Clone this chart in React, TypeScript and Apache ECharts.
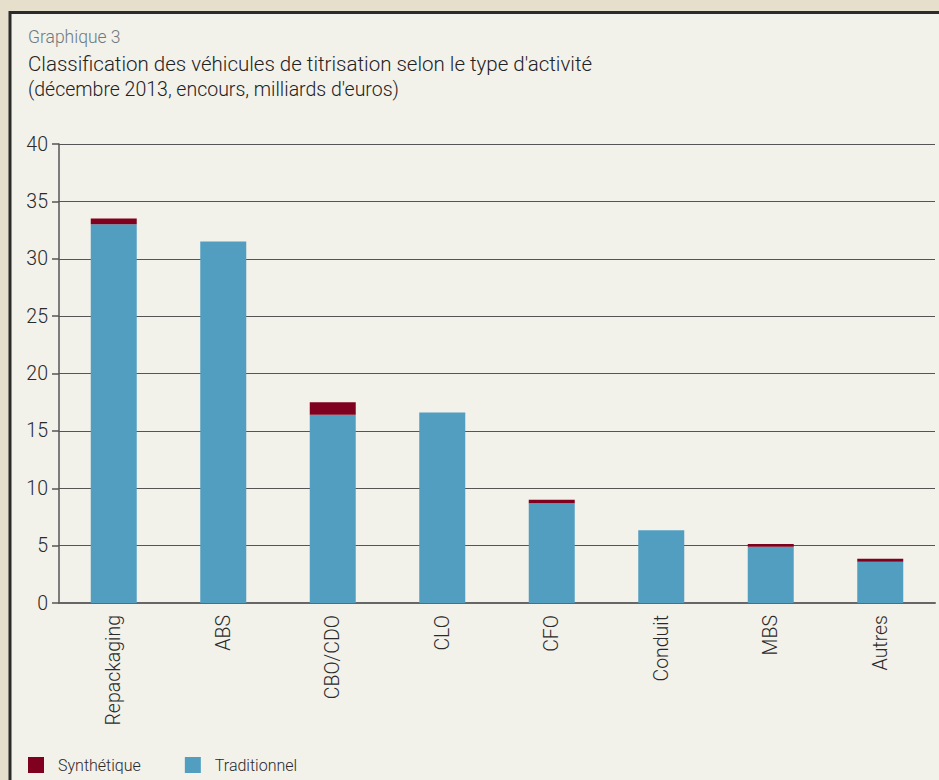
import React, { useEffect, useRef } from "react";
import * as echarts from "echarts";

const categories = ["Repackaging", "ABS", "CBO/CDO", "CLO", "CFO", "Conduit", "MBS", "Autres"];
const traditionnel = [33.0, 31.5, 16.4, 16.6, 8.7, 6.35, 4.9, 3.6];
const synthetique = [0.5, 0, 1.1, 0, 0.3, 0, 0.25, 0.25];
const yTicks = { min: 0, max: 40, interval: 5 };

const FONT = "Roboto";

export default function App() {
  const ref = useRef<HTMLDivElement>(null);
  useEffect(() => {
    document.body.style.margin = "0";
    const chart = echarts.init(ref.current!, undefined, { renderer: "svg" });
    chart.setOption({
      animation: false,
      backgroundColor: "#e5dfcc",
      textStyle: { fontFamily: FONT },
      graphic: [
        {
          type: "rect",
          z: -10,
          silent: true,
          shape: { x: 10, y: 12.5, width: 1000, height: 900 },
          style: { fill: "#f2f1ea", stroke: "#2b2b2b", lineWidth: 3 },
        },
        {
          type: "text",
          left: 28,
          top: 28,
          style: { text: "Graphique 3", fill: "#6d7a80", font: `300 17.5px ${FONT}` },
        },
        {
          type: "text",
          left: 28,
          top: 53,
          style: {
            text: "Classification des véhicules de titrisation selon le type d'activité",
            fill: "#222222",
            font: `300 20.5px ${FONT}`,
          },
        },
        {
          type: "text",
          left: 28,
          top: 79,
          style: {
            text: "(décembre 2013, encours, milliards d'euros)",
            fill: "#222222",
            font: `300 19.5px ${FONT}`,
          },
        },
      ],
      legend: {
        left: 23,
        top: 752,
        itemWidth: 16,
        itemHeight: 16,
        itemGap: 44,
        icon: "rect",
        data: ["Synthétique", "Traditionnel"],
        textStyle: { fontFamily: FONT, fontSize: 16, fontWeight: 300, color: "#2a2a2a", padding: [0, 0, 0, 9] },
      },
      grid: { left: 59, right: 4, top: 144, bottom: 177 },
      xAxis: {
        type: "category",
        data: categories,
        axisLine: { lineStyle: { color: "#666", width: 2 } },
        axisTick: { length: 6, lineStyle: { color: "#555", width: 1.5 } },
        axisLabel: { rotate: 90, margin: 12, fontSize: 19.5, color: "#2a2a2a", fontFamily: FONT, fontWeight: 300 },
      },
      yAxis: {
        type: "value",
        min: yTicks.min,
        max: yTicks.max,
        interval: yTicks.interval,
        axisLine: { show: true, lineStyle: { color: "#555", width: 1.5 } },
        axisTick: { show: true, length: 7, lineStyle: { color: "#555", width: 1.5 } },
        axisLabel: { margin: 11, fontSize: 19.5, color: "#2a2a2a", fontFamily: FONT, fontWeight: 300 },
        splitLine: { lineStyle: { color: "#555", width: 1 } },
      },
      series: [
        {
          name: "Traditionnel",
          type: "bar",
          stack: "total",
          barWidth: "42%",
          itemStyle: { color: "#529ec1" },
          data: traditionnel,
        },
        {
          name: "Synthétique",
          type: "bar",
          stack: "total",
          barWidth: "42%",
          itemStyle: { color: "#80001f" },
          data: synthetique,
        },
      ],
    });
    return () => chart.dispose();
  }, []);
  return (
    <div
      ref={ref}
      style={{ position: "absolute", left: 0, top: 0, width: 939, height: 780 }}
    />
  );
}
